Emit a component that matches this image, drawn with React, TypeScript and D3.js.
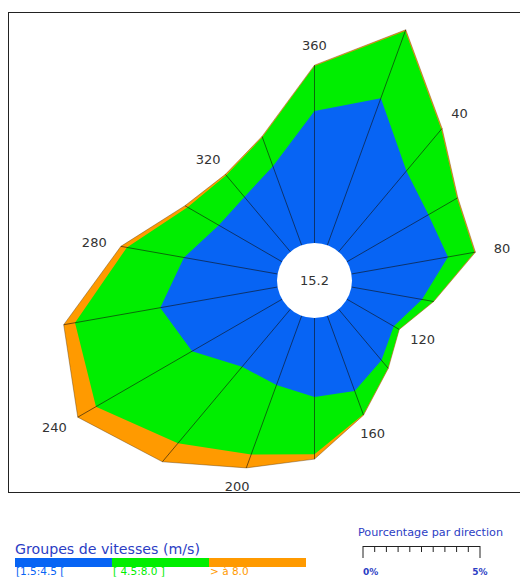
import React from "react";
import * as d3 from "d3";

const directions = [0, 20, 40, 60, 80, 100, 120, 140, 160, 180, 200, 220, 240, 260, 280, 300, 320, 340];
const blueVals = [5.64, 6.69, 4.51, 4.02, 4.19, 3.06, 2.31, 2.85, 3.42, 3.38, 3.15, 3.21, 4.44, 5.09, 4.06, 3.12, 3.06, 3.59];
const greenVals = [1.92, 3.05, 2.32, 1.41, 1.15, 0.49, 0.26, 0.43, 1.07, 2.44, 3.16, 4.27, 4.74, 3.7, 2.48, 1.54, 1.21, 1.32];
const orangeVals = [0.04, 0.06, 0.05, 0.04, 0.04, 0.02, 0.01, 0.02, 0.03, 0.21, 0.61, 1.03, 0.9, 0.49, 0.26, 0.13, 0.05, 0.04];
const dirLabels = [360, 40, 80, 120, 160, 200, 240, 280, 320];
const calm = "15.2";
const groupNames = ["[1.5:4.5 [", "[ 4.5:8.0 ]", "> à 8.0"];
const groupColors = ["#0764f4", "#00ee00", "#ff9a00"];
const scaleTicks = [0, 0.5, 1, 1.5, 2, 2.5, 3, 3.5, 4, 4.5, 5];

export default function App() {
  const W = 520, H = 578;
  const cx = 314.5, cy = 280.5, hole = 37.5, pxPer5 = 117;
  const r = d3.scaleLinear().domain([0, 5]).range([hole, hole + pxPer5]);
  const rad = (deg: number) => (deg * Math.PI) / 180;

  const cumBlue = blueVals;
  const cumGreen = blueVals.map((b, i) => b + greenVals[i]);
  const cumOrange = cumGreen.map((g, i) => g + orangeVals[i]);

  const line = d3
    .lineRadial<number>()
    .angle((_, i) => rad(directions[i]))
    .radius((v) => r(v))
    .curve(d3.curveLinearClosed);

  const layers = [
    { vals: cumOrange, color: groupColors[2] },
    { vals: cumGreen, color: groupColors[1] },
    { vals: cumBlue, color: groupColors[0] },
  ];

  const pad = 14;
  const labelPos = (deg: number) => {
    const i = directions.indexOf(deg % 360);
    const ro = r(cumOrange[i]);
    const ux = Math.sin(rad(deg)), uy = -Math.cos(rad(deg));
    const w = 26, h = 12;
    return {
      x: cx + ux * (ro + pad) + (ux * w) / 2,
      y: cy + uy * (ro + pad) + (uy * h) / 2,
    };
  };

  const legendScale = d3.scaleLinear().domain([0, 5]).range([363, 363 + pxPer5]);
  const barX = d3.scaleBand<number>().domain([0, 1, 2]).range([15, 306]).padding(0);

  return (
    <svg width={W} height={H} style={{ position: "absolute", left: 0, top: 0, background: "#fff" }}
      fontFamily="DejaVu Sans, Verdana, sans-serif">
      <rect x={8.5} y={12.5} width={530} height={480} fill="#fff" stroke="#222" strokeWidth={1} />
      <g transform={`translate(${cx},${cy})`}>
        {layers.map((l, k) => (
          <path key={k} d={line(l.vals) || ""} fill={l.color}
            stroke={k === 0 ? "#5a3a10" : "none"} strokeWidth={0.6} strokeOpacity={0.7} />
        ))}
        {directions.map((d, i) => {
          const ro = r(cumOrange[i]);
          const s = Math.sin(rad(d)), c = -Math.cos(rad(d));
          return (
            <line key={d} x1={s * hole} y1={c * hole} x2={s * ro} y2={c * ro}
              stroke="#111" strokeWidth={0.7} strokeOpacity={0.85} />
          );
        })}
        <circle r={hole} fill="#fff" />
        <text textAnchor="middle" dy="0.35em" fontSize={13} fill="#333">{calm}</text>
      </g>
      {dirLabels.map((lab) => {
        const p = labelPos(lab);
        return (
          <text key={lab} x={p.x} y={p.y} textAnchor="middle" dy="0.35em" fontSize={13} fill="#333">
            {lab}
          </text>
        );
      })}

      <text x={15} y={554} fontSize={14} textLength={185} lengthAdjust="spacingAndGlyphs" fill="#2b3dc4">
        Groupes de vitesses (m/s)
      </text>
      {groupNames.map((g, i) => (
        <g key={g}>
          <rect x={barX(i)} y={558} width={barX.bandwidth()} height={9} fill={groupColors[i]} />
          <text x={(barX(i) || 0) + 1} y={575} fontSize={10.5} fill={groupColors[i]}>{g}</text>
        </g>
      ))}

      <text x={358} y={536} fontSize={10.5} textLength={145} lengthAdjust="spacingAndGlyphs" fill="#2b3dc4">
        Pourcentage par direction
      </text>
      <line x1={legendScale(0)} x2={legendScale(5)} y1={546.5} y2={546.5} stroke="#222" strokeWidth={1.2} />
      {scaleTicks.map((t) => (
        <line key={t} x1={legendScale(t)} x2={legendScale(t)} y1={546}
          y2={t === 0 || t === 5 ? 558 : 552} stroke="#222" strokeWidth={1} />
      ))}
      <text x={legendScale(0)} y={575} fontSize={9} fontWeight="bold" fill="#2b3dc4">0%</text>
      <text x={legendScale(5)} y={575} fontSize={9} fontWeight="bold" fill="#2b3dc4" textAnchor="middle">5%</text>
    </svg>
  );
}
